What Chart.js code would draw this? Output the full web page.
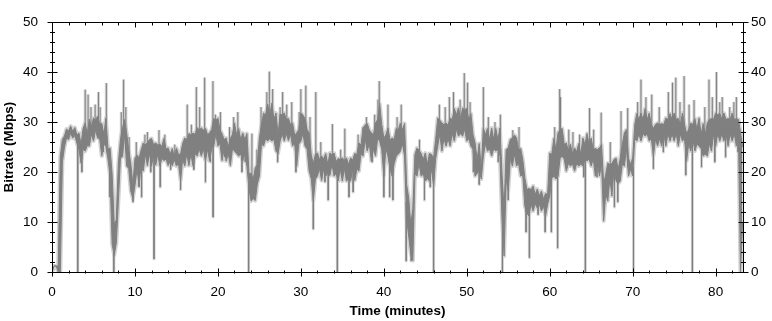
<!DOCTYPE html>
<html>
<head>
<meta charset="utf-8">
<title>Bitrate trace</title>
<script src="https://cdn.jsdelivr.net/npm/chart.js@4.4.1/dist/chart.umd.min.js"></script>
<style>
  html, body { margin: 0; padding: 0; background: #fff; }
</style>
</head>
<body>
<canvas id="bitrateChart" width="772" height="321"></canvas>
<script>
// sample spacing of the trace, minutes
var STEP = 0.25;

// per-sample low / high of the bitrate band (Mbps), one row per minute
var bandLo = [
    0, 1.2, 1.2, 0,
    0, 22, 25, 26.8,
    26.5, 27.8, 26.8, 27.3,
    25.8, 24.5, 21.8, 24.6,
    24.2, 25.3, 25.2, 27.6,
    26.2, 28.4, 26.8, 26.7,
    23.2, 25.6, 25.1, 22.6,
    19.2, 5.6, 3.3, 5.8,
    14.2, 22.8, 23.1, 27.6,
    21.2, 20.7, 16.2, 14.7,
    17.3, 20.6, 17.2, 21.6,
    20.2, 23.6, 21.3, 23.7,
    21.2, 23.5, 21.4, 23.6,
    21.3, 22.7, 22.3, 22.6,
    21.3, 22.2, 21.3, 22.5,
    21.2, 21.7, 18.3, 22.6,
    21.2, 23.7, 21.3, 23.6,
    21.2, 23.7, 23.2, 24.6,
    23.2, 24.7, 22.2, 24.6,
    22.2, 24.7, 25.2, 27.6,
    25.2, 25.7, 22.3, 24.6,
    22.2, 23.7, 21.3, 24.6,
    24.2, 23.7, 23.2, 23.6,
    22.2, 23.7, 21.2, 16.6,
    14.2, 14.7, 14.3, 17.6,
    19.2, 25.7, 25.2, 26.7,
    26.2, 26.7, 26.2, 26.6,
    24.2, 23.7, 26.2, 27.6,
    26.2, 27.7, 26.3, 27.6,
    25.2, 25.7, 21.2, 25.6,
    26.2, 27.7, 25.2, 24.6,
    20.2, 18.7, 14.2, 18.6,
    19.2, 20.7, 18.3, 20.6,
    19.2, 19.7, 19.3, 21.6,
    19.2, 19.7, 18.2, 20.6,
    18.2, 20.7, 18.2, 18.6,
    18.2, 20.7, 18.3, 20.6,
    20.2, 23.7, 23.2, 26.6,
    24.2, 25.7, 22.2, 24.6,
    23.2, 26.7, 26.2, 24.6,
    19.2, 24.7, 23.2, 20.6,
    19.2, 21.7, 23.2, 23.6,
    24.2, 25.7, 23.2, 10.6,
    7.2, 3.7, 2.3, 19.6,
    19.2, 21.7, 19.2, 19.6,
    18.2, 18.7, 18.2, 20.6,
    17.2, 22.7, 25.2, 27.6,
    24.2, 26.7, 25.2, 26.6,
    25.2, 27.7, 26.2, 28.6,
    27.2, 27.7, 27.2, 28.6,
    26.2, 26.7, 25.2, 24.6,
    19.2, 19.7, 20.2, 18.6,
    23.2, 25.7, 24.2, 24.6,
    23.2, 24.7, 24.2, 24.6,
    23.2, 10.7, 3.2, 18.6,
    16.2, 22.7, 21.2, 23.6,
    21.2, 21.7, 19.2, 19.6,
    13.2, 11.7, 11.2, 13.6,
    12.2, 13.7, 12.8, 13.6,
    12.2, 13.2, 11.2, 13.6,
    15.2, 18.7, 19.2, 18.6,
    19.2, 22.7, 23.2, 22.6,
    20.2, 21.7, 21.2, 21.6,
    20.2, 21.7, 21.2, 21.6,
    21.2, 22.7, 22.2, 22.6,
    21.2, 22.7, 19.2, 21.6,
    19.2, 21.7, 10.2, 15.6,
    14.2, 18.7, 15.2, 20.6,
    18.2, 17.7, 18.2, 21.6,
    21.2, 24.7, 19.2, 20.6,
    19.2, 26.7, 26.2, 27.6,
    26.2, 27.7, 27.2, 27.6,
    26.2, 26.7, 23.2, 26.6,
    25.2, 26.7, 25.2, 27.6,
    25.2, 27.7, 26.2, 27.6,
    26.2, 27.7, 25.2, 27.6,
    26.2, 26.7, 22.2, 25.6,
    24.2, 26.7, 24.2, 25.6,
    25.2, 24.7, 23.2, 23.6,
    23.2, 25.7, 24.2, 27.6,
    25.2, 27.7, 26.2, 27.6,
    26.2, 27.7, 25.2, 27.6,
    26.2, 27.7, 25.2, 27.6,
    0, 10
];
var bandHi = [
    0, 1.2, 1.2, 1.2,
    23, 26.5, 27.2, 28.6,
    28.2, 29.2, 28.1, 28.9,
    27.4, 27.8, 25.5, 28.7,
    29.8, 27.6, 30.6, 29.1,
    30.8, 30.4, 31.2, 29.6,
    29.7, 27.5, 30.8, 24.6,
    24.8, 19.5, 9.6, 10.4,
    21.8, 26.4, 28.9, 30.5,
    27.8, 24.4, 21.6, 17.5,
    22.7, 23.4, 22.8, 24.4,
    25.8, 25.4, 25.9, 26.5,
    26.7, 25.5, 25.8, 25.4,
    25.6, 25.1, 26.7, 24.6,
    24.8, 23.6, 24.7, 23.2,
    24.8, 23.5, 23.6, 25.7,
    26.8, 26.5, 27.7, 27.4,
    27.8, 27.5, 28.9, 28.4,
    28.8, 28.4, 28.7, 27.5,
    27.8, 28.5, 30.7, 30.4,
    30.8, 28.5, 27.6, 26.5,
    26.8, 25.1, 26.7, 27.5,
    29.8, 27.4, 28.7, 26.5,
    27.8, 26.5, 27.7, 19.6,
    19.8, 18.5, 20.8, 21.5,
    26.8, 29.5, 31.8, 31.4,
    33.6, 31.5, 33.8, 30.5,
    31.8, 27.5, 31.6, 31.4,
    31.8, 30.5, 30.7, 29.5,
    29.8, 27.4, 27.8, 28.5,
    31.8, 31.4, 30.7, 28.5,
    27.8, 23.4, 21.7, 23.5,
    23.8, 22.5, 23.2, 22.6,
    23.7, 21.5, 23.8, 23.4,
    23.8, 22.1, 22.7, 22.5,
    22.8, 22.4, 22.8, 21.5,
    22.8, 22.4, 23.7, 23.5,
    25.8, 25.4, 28.8, 29.4,
    29.7, 28.4, 27.8, 27.5,
    29.8, 30.5, 33.7, 29.5,
    26.8, 27.4, 28.8, 26.4,
    26.8, 26.5, 28.7, 28.5,
    29.8, 28.4, 29.7, 17.5,
    14.8, 9.5, 12.7, 23.5,
    24.8, 24.4, 23.7, 22.5,
    23.8, 21.5, 23.7, 23.5,
    22.8, 26.5, 30.8, 30.4,
    29.8, 29.5, 29.8, 29.4,
    30.8, 30.5, 32.7, 31.4,
    32.8, 30.5, 32.8, 32.4,
    32.8, 30.4, 31.7, 27.5,
    25.8, 22.5, 25.7, 20.5,
    28.8, 27.5, 28.7, 26.5,
    28.8, 26.5, 28.7, 26.4,
    28.8, 19.5, 12.6, 24.5,
    24.8, 26.5, 26.8, 27.4,
    26.8, 24.4, 24.7, 22.5,
    18.8, 16.5, 16.7, 16.5,
    17.2, 15.5, 16.6, 15.2,
    16.2, 14.6, 15.7, 15.5,
    23.8, 23.5, 26.7, 24.5,
    27.8, 28.5, 28.7, 25.5,
    25.8, 24.2, 25.6, 23.5,
    24.8, 24.1, 25.7, 23.5,
    26.8, 25.5, 27.7, 25.5,
    26.8, 24.5, 24.7, 24.5,
    24.8, 25.5, 17.7, 19.5,
    21.8, 21.5, 21.7, 22.5,
    22.8, 20.5, 22.7, 25.5,
    27.8, 28.5, 22.7, 21.5,
    22.8, 29.5, 31.7, 30.5,
    31.8, 30.5, 32.7, 30.5,
    31.8, 29.5, 28.7, 29.5,
    29.8, 29.5, 29.7, 29.5,
    30.8, 30.5, 31.7, 30.5,
    31.8, 30.5, 30.7, 29.5,
    31.8, 29.5, 27.7, 28.5,
    29.8, 29.5, 30.7, 28.5,
    30.8, 27.5, 29.7, 27.5,
    29.8, 30.5, 30.7, 30.5,
    31.8, 31.5, 31.7, 30.5,
    31.8, 30.5, 30.7, 30.5,
    31.8, 30.5, 30.7, 30.5,
    28, 25
];

// tall single-sample spikes and dropouts: time (minutes) and the value they reach (Mbps)
var spikeTimes = [
    3.1, 4.0, 4.35, 5.6, 5.8, 6.55, 6.95, 7.45, 8.35, 8.63, 9.76, 10.16, 10.8, 11.5,
    12.3, 12.9, 13.05, 15.5, 16.3, 17.4, 17.8, 18.4, 18.5, 19.4, 19.42, 19.7, 21.9, 22.9,
    23.7, 24.1, 25.2, 25.9, 26.2, 26.6, 27.2, 27.8, 29.4, 30.0, 30.6, 31.5, 31.8, 33.3,
    33.8, 34.4, 35.3, 35.8, 37.9, 39.3, 39.45, 40.0, 40.5, 40.7, 41.1, 42.1, 42.7, 43.3,
    44.9, 46.0, 46.7, 47.9, 48.4, 49.7, 50.1, 50.8, 51.5, 52.0, 54.05, 54.3, 55.0, 55.55,
    57.15, 57.55, 59.45, 60.2, 60.95, 61.2, 61.3, 62.8, 64.3, 64.8, 66.2, 68.2, 68.6, 69.4,
    70.1, 71.0, 72.3, 72.5, 74.3, 74.8, 75.2, 76.2, 76.4, 77.2, 77.4, 79.2, 79.9, 80.1,
    80.5, 81.7, 82.2
];
var spikeTops = [
    0, 36.5, 35.5, 36, 33, 37.8, 15, 0, 32, 38.5, 14, 26, 15, 28,
    2.6, 28.4, 17, 16.5, 33.5, 37, 33, 38.9, 18, 38.2, 11, 31.5, 31, 20,
    0, 27.7, 33, 36, 40.1, 36.6, 22, 36, 20, 36.6, 37.3, 8.6, 36, 14.4,
    29.6, 0, 28.7, 15, 31, 34.5, 38.2, 15, 33.5, 15, 14.4, 33.5, 2.2, 2.2,
    14.4, 0, 33.5, 35, 36, 39.8, 37.9, 20, 17.5, 37, 31.5, 0, 14.4, 28.4,
    8, 2.9, 8, 8, 4.8, 36.6, 35, 28, 0, 32.8, 31.9, 14, 32.2, 32.8,
    0, 38.5, 35.5, 20.7, 36, 37.9, 38.9, 39.2, 19.4, 0, 34.4, 38.5, 22, 40,
    34, 33, 34
];

// shorter spikes around the band
var smallSpikeTimes = [
    3.6, 4.7, 5.2, 6.2, 8.9, 9.3, 10.5, 11.2, 11.9, 13.6, 14.3, 14.8, 16.8, 17.1,
    19.1, 20.3, 20.8, 21.4, 22.4, 23.3, 24.7, 27.5, 28.3, 28.9, 29.8, 31.1, 32.4, 32.9,
    34.8, 36.3, 36.9, 37.5, 38.6, 38.9, 41.6, 44.3, 45.6, 47.4, 49.2, 50.4, 52.6, 53.4,
    53.8, 56.3, 56.8, 58.6, 60.6, 62.3, 63.6, 64.1, 65.3, 65.7, 67.3, 67.8, 70.6, 71.6,
    73.2, 73.7, 75.7, 76.8, 78.3, 78.7, 79.6, 80.8, 81.2, 82.5, 82.7
];
var smallSpikeTops = [
    20, 33, 33.5, 24, 33, 27, 17, 27.5, 20, 27.5, 20.5, 25.5, 29.5, 20.5,
    22, 32, 23, 29, 32, 22, 24.5, 33, 33.5, 34, 32, 31, 26, 18,
    24.5, 16, 27.5, 29, 22, 31.5, 31, 26.5, 17, 33, 34.5, 34, 31, 30,
    22, 29, 19, 11.5, 29, 28.5, 27.5, 19, 28.5, 19, 26, 13, 34, 35,
    33, 24, 34, 33.5, 21, 33, 35, 35, 23, 35, 24
];

// axis ranges / ticks
var xMax = 83.3;
var yMax = 50;
var majorStep = 10;
var minorStep = 2;

// band edges as xy points
var loPts = bandLo.map(function (v, i) { return { x: i * STEP, y: v }; });
var hiPts = bandHi.map(function (v, i) { return { x: i * STEP, y: v }; });

// each spike is a vertical stroke from the middle of the band to its value, separated by gaps
var spikePts = [];
function addSpikes(times, tops) {
    times.forEach(function (t, s) {
        var i = Math.min(Math.round(t / STEP), bandLo.length - 1);
        var mid = (bandLo[i] + bandHi[i]) / 2;
        spikePts.push({ x: t, y: mid }, { x: t, y: tops[s] }, { x: t, y: null });
    });
}
addSpikes(spikeTimes, spikeTops);
addSpikes(smallSpikeTimes, smallSpikeTops);

var DARK = '#808080';
var LIGHT = '#d2d2d2';

var tickFont = { family: "'Liberation Sans', Arial, sans-serif", size: 13.5 };
var titleFont = { family: "'Liberation Sans', Arial, sans-serif", size: 13.5, weight: 'bold' };

// frame + major/minor tick marks like the original plot
var frameTicks = {
    id: 'frameTicks',
    afterDraw: function (chart) {
        var ctx = chart.ctx, a = chart.chartArea, s = chart.scales;
        var L = Math.round(a.left) + 0.5, R = Math.round(a.right) + 0.5;
        var T = Math.round(a.top) + 0.5, B = Math.round(a.bottom) + 0.5;
        ctx.save();
        ctx.strokeStyle = '#000';
        ctx.lineWidth = 1;
        ctx.beginPath();
        ctx.moveTo(L, T); ctx.lineTo(R, T); ctx.lineTo(R, B); ctx.lineTo(L, B); ctx.closePath();
        for (var v = 0; v <= yMax; v += minorStep) {
            var y = Math.round(s.y.getPixelForValue(v)) + 0.5;
            var len = v % majorStep === 0 ? 5 : 2.5;
            ctx.moveTo(L - len, y); ctx.lineTo(L + len, y);
            ctx.moveTo(R - len, y); ctx.lineTo(R + len, y);
        }
        for (var m = 0; m <= xMax; m += minorStep) {
            var x = Math.round(s.x.getPixelForValue(m)) + 0.5;
            if (m % majorStep === 0) {
                ctx.moveTo(x, B - 4); ctx.lineTo(x, B + 4);
                ctx.moveTo(x, T); ctx.lineTo(x, T + 5);
            } else {
                ctx.moveTo(x, B - 2); ctx.lineTo(x, B + 1);
                ctx.moveTo(x, T); ctx.lineTo(x, T + 3);
            }
        }
        ctx.stroke();
        ctx.restore();
    }
};

function lineSet(label, data, color, width, order, extra) {
    var ds = {
        label: label,
        data: data,
        borderColor: color,
        borderWidth: width,
        borderJoinStyle: 'round',
        pointRadius: 0,
        fill: false,
        spanGaps: false,
        order: order
    };
    for (var k in extra) ds[k] = extra[k];
    return ds;
}

var ctx = document.getElementById('bitrateChart').getContext('2d');
var bitrateChart = new Chart(ctx, {
    type: 'line',
    data: {
        datasets: [
            lineSet('band high', hiPts, DARK, 1, 2),
            lineSet('band low', loPts, DARK, 1, 2, { fill: '-1', backgroundColor: DARK }),
            lineSet('spikes', spikePts, DARK, 1, 1),
            lineSet('envelope high', hiPts, LIGHT, 4, 5),
            lineSet('envelope low', loPts, LIGHT, 4, 5),
            lineSet('envelope spikes', spikePts, LIGHT, 3, 5)
        ]
    },
    options: {
        responsive: false,
        animation: false,
        events: [],
        layout: { padding: { top: 10, left: 0, right: 0, bottom: 0 } },
        plugins: { legend: { display: false }, tooltip: { enabled: false } },
        elements: { line: { tension: 0 } },
        scales: {
            x: {
                type: 'linear',
                position: 'bottom',
                min: 0,
                max: xMax,
                grid: { display: false, drawTicks: false },
                border: { display: false },
                ticks: { stepSize: majorStep, includeBounds: false, color: '#000', font: tickFont, padding: 12, maxRotation: 0 },
                title: { display: true, text: 'Time (minutes)', color: '#000', font: titleFont, padding: { top: 0, bottom: 2 } },
                afterFit: function (scale) { scale.height = 49; }
            },
            y: {
                position: 'left',
                min: 0,
                max: yMax,
                grid: { display: false, drawTicks: false },
                border: { display: false },
                ticks: { stepSize: majorStep, color: '#000', font: tickFont, padding: 14 },
                title: { display: true, text: 'Bitrate (Mbps)', color: '#000', font: titleFont, padding: { top: 1, bottom: 0 } },
                afterFit: function (scale) { scale.width = 52; }
            },
            y2: {
                position: 'right',
                min: 0,
                max: yMax,
                grid: { display: false, drawTicks: false },
                border: { display: false },
                ticks: { stepSize: majorStep, color: '#000', font: tickFont, padding: 8 },
                afterFit: function (scale) { scale.width = 29; }
            }
        }
    },
    plugins: [frameTicks]
});
</script>
</body>
</html>
